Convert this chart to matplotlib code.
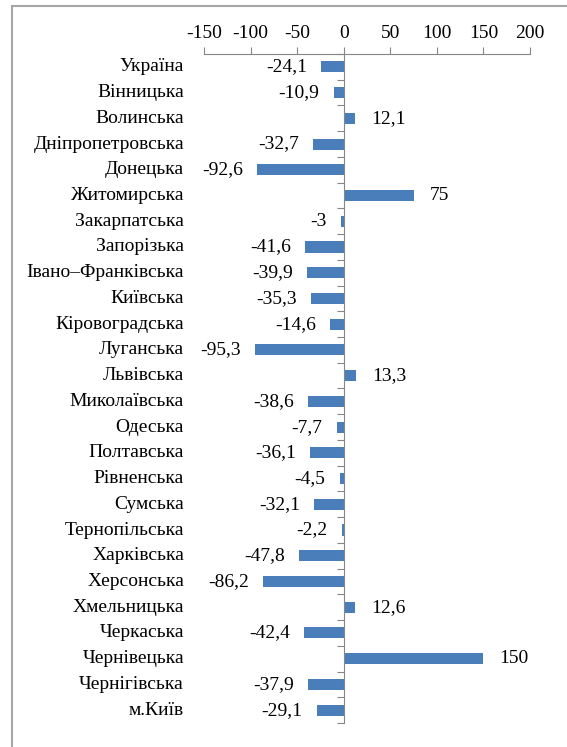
import matplotlib
matplotlib.use("Agg")
import matplotlib.pyplot as plt
from matplotlib.patches import Rectangle

regions = ["Україна", "Вінницька", "Волинська", "Дніпропетровська", "Донецька",
           "Житомирська", "Закарпатська", "Запорізька", "Івано–Франківська",
           "Київська", "Кіровоградська", "Луганська", "Львівська", "Миколаївська",
           "Одеська", "Полтавська", "Рівненська", "Сумська", "Тернопільська",
           "Харківська", "Херсонська", "Хмельницька", "Черкаська", "Чернівецька",
           "Чернігівська", "м.Київ"]
values = [-24.1, -10.9, 12.1, -32.7, -92.6, 75, -3, -41.6, -39.9, -35.3, -14.6,
          -95.3, 13.3, -38.6, -7.7, -36.1, -4.5, -32.1, -2.2, -47.8, -86.2, 12.6,
          -42.4, 150, -37.9, -29.1]
xticks = [-150, -100, -50, 0, 50, 100, 150, 200]

plt.rcParams['font.family'] = ['Liberation Serif', 'DejaVu Serif']
plt.rcParams['font.size'] = 14

fig = plt.figure(figsize=(5.67, 7.47), dpi=100)
fig.patches.append(Rectangle((12 / 567, -0.1), 1.2, 1 - 6 / 747 + 0.1,
                             transform=fig.transFigure, fill=False,
                             edgecolor='#a6a6a6', linewidth=1.5))

ax = fig.add_axes([204 / 567, 1 - 723 / 747, 326 / 567, 669 / 747])
pos = list(range(len(regions)))
ax.barh(pos, values, height=0.43, color='#4a7ebb')

ax.set_xlim(-150, 200)
ax.set_ylim(len(regions) - 0.5, -0.5)
ax.xaxis.tick_top()
ax.set_xticks(xticks)
ax.set_xticklabels([str(t) for t in xticks])
ax.tick_params(axis='x', direction='out', length=5, color='#868686', pad=4)

ax.set_yticks([i - 0.5 for i in range(len(regions) + 1)])
ax.set_yticklabels([])
ax.tick_params(axis='y', direction='out', length=5, color='#868686')

for s in ['right', 'bottom']:
    ax.spines[s].set_visible(False)
ax.spines['top'].set_color('#868686')
ax.spines['left'].set_color('#868686')
ax.spines['left'].set_position(('data', 0))

for i, name in enumerate(regions):
    ax.annotate(name, xy=(0, i), xycoords=('axes fraction', 'data'),
                xytext=(-20, 0), textcoords='offset pixels',
                ha='right', va='center')

for i, v in enumerate(values):
    txt = ('%g' % v).replace('.', ',')
    if v < 0:
        ax.annotate(txt, xy=(v, i), xytext=(-14, 0), textcoords='offset pixels',
                    ha='right', va='center')
    else:
        ax.annotate(txt, xy=(v, i), xytext=(16, 0), textcoords='offset pixels',
                    ha='left', va='center')

fig.savefig('out.png', dpi=100)
